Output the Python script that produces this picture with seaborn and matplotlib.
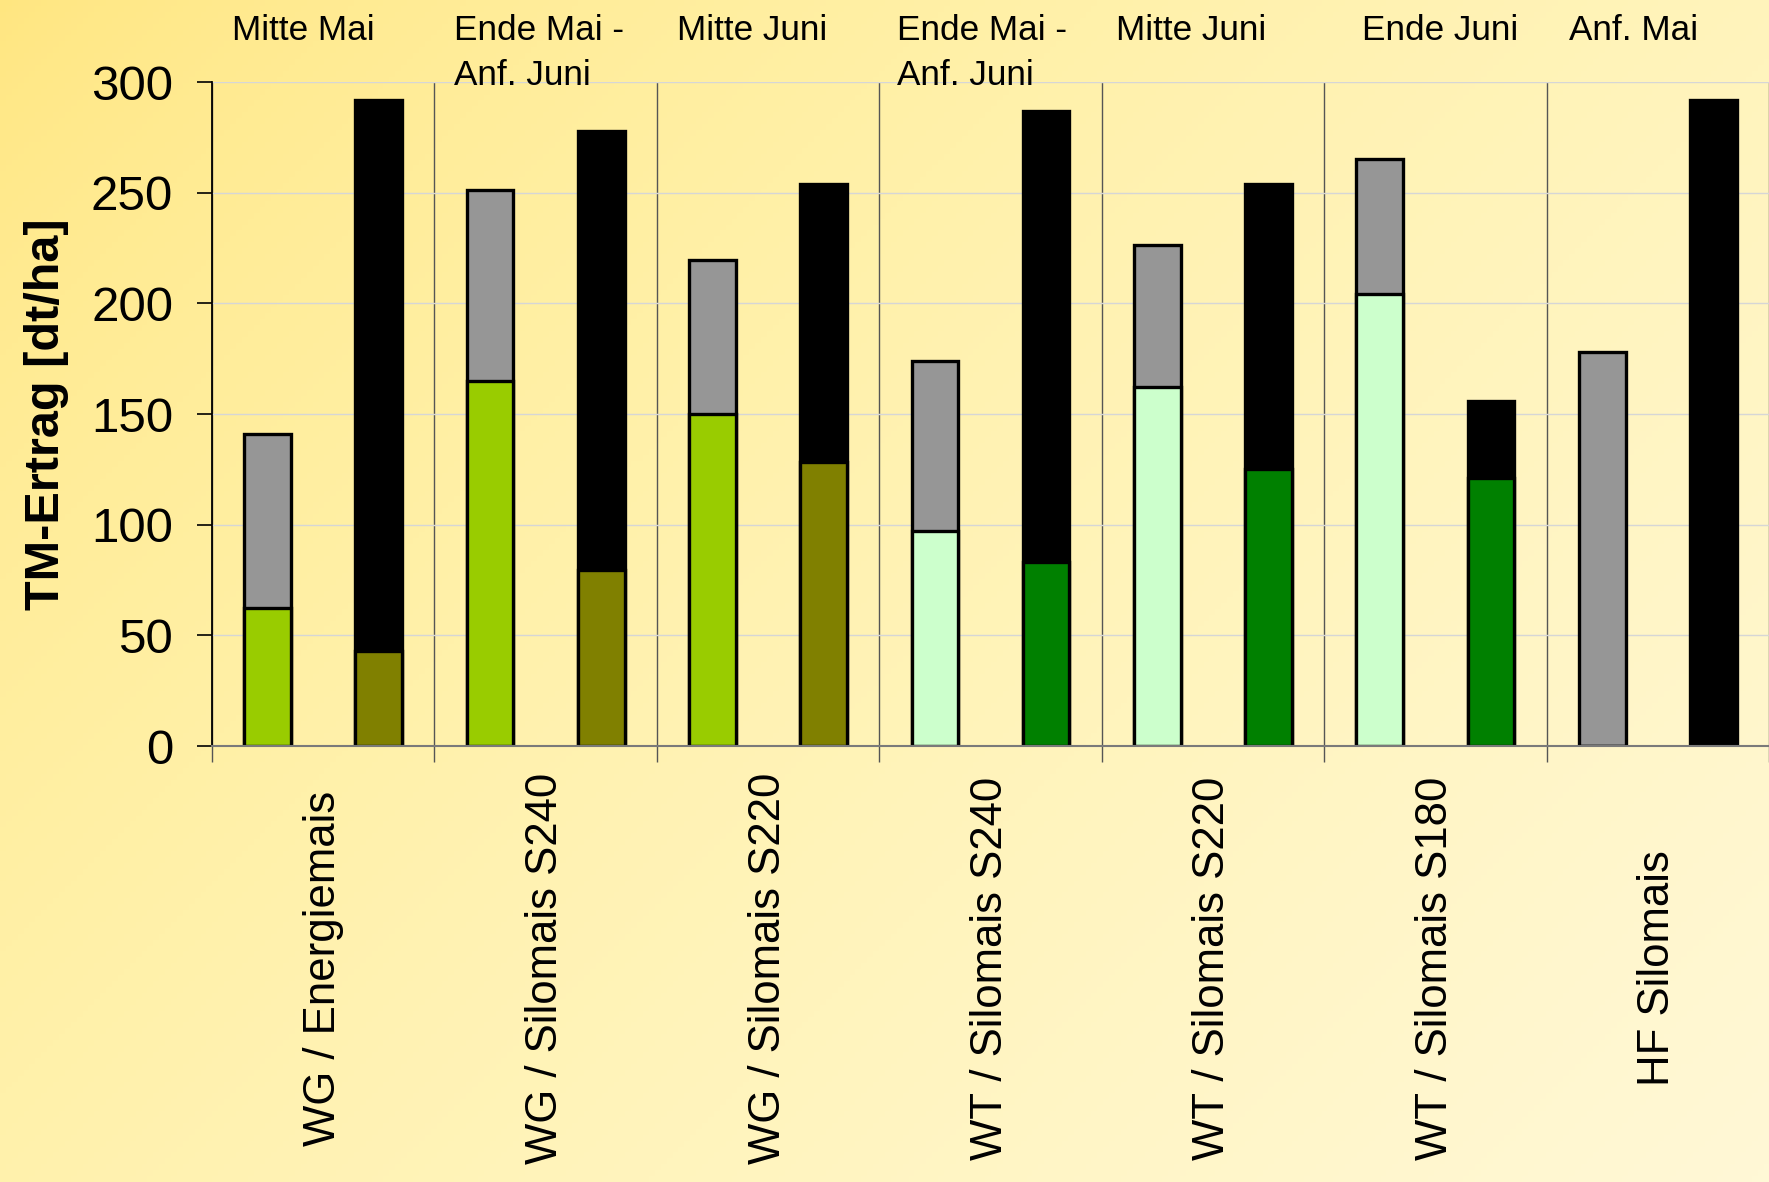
import numpy as np
import pandas as pd
import seaborn as sns
import matplotlib.pyplot as plt
import matplotlib.transforms as mtransforms
from matplotlib.colors import LinearSegmentedColormap

# groups on the x axis and the sowing dates written above them
groups = ["WG / Energiemais", "WG / Silomais S240", "WG / Silomais S220",
          "WT / Silomais S240", "WT / Silomais S220", "WT / Silomais S180",
          "HF Silomais"]
sowing = ["Mitte Mai", "Ende Mai -\nAnf. Juni", "Mitte Juni",
          "Ende Mai -\nAnf. Juni", "Mitte Juni", "Ende Juni", "Anf. Mai"]

# first bar of each group: Vorfrucht (lower) and stacked total with Mais
lower_a = [62.5, 165, 150, 97, 162, 204, 0]
total_a = [141, 251, 219.5, 174, 226.5, 265, 178]
# second bar of each group
lower_b = [43, 79.5, 128.5, 83, 125, 121, 0]
total_b = [292, 278, 254, 287, 254, 156, 292]

# colours
lower_a_colors = ["#99CC00"] * 3 + ["#CCFFCC"] * 3 + ["#969696"]
lower_b_colors = ["#808000"] * 3 + ["#008000"] * 3 + ["#000000"]
upper_a_color = "#969696"
upper_b_color = "#000000"

rows = []
for i, g in enumerate(groups):
    rows.append({"slot": g + " a", "lower": lower_a[i], "total": total_a[i],
                 "c_low": lower_a_colors[i], "c_up": upper_a_color})
    rows.append({"slot": g + " b", "lower": lower_b[i], "total": total_b[i],
                 "c_low": lower_b_colors[i], "c_up": upper_b_color})
df = pd.DataFrame(rows)
slots = list(df["slot"])
pal_up = dict(zip(df["slot"], df["c_up"]))
pal_low = dict(zip(df["slot"], df["c_low"]))

sns.set_style("white")
plt.rcParams["font.family"] = ["Liberation Sans", "DejaVu Sans"]
plt.rcParams["text.color"] = "black"
plt.rcParams["axes.labelcolor"] = "black"

W, H = 1769, 1182
fig = plt.figure(figsize=(W / 100, H / 100), dpi=100)

# yellow gradient background
bg = fig.add_axes([0, 0, 1, 1])
bg.axis("off")
yy, xx = np.mgrid[0:1:200j, 0:1:300j]
t = np.clip((xx * 0.6 + yy * 0.4), 0, 1) ** 0.7
cmap = LinearSegmentedColormap.from_list("bg", ["#FFE680", "#FFF1AA", "#FFF8D6"])
bg.imshow(t, cmap=cmap, aspect="auto", extent=[0, 1, 0, 1], origin="upper")

ax = fig.add_axes([212 / W, 1 - 746 / H, 1 - 212 / W, 664 / H])
ax.set_facecolor("none")

bar_kw = dict(x="slot", hue="slot", order=slots, hue_order=slots, width=0.42,
              saturation=1, edgecolor="black", linewidth=2.4, legend=False,
              errorbar=None, ax=ax)
sns.barplot(data=df, y="total", palette=pal_up, **bar_kw)
sns.barplot(data=df, y="lower", palette=pal_low, **bar_kw)

n = len(groups)
centers = [2 * i + 0.5 for i in range(n)]
bounds = [2 * i - 0.5 for i in range(n + 1)]

ax.set_xlim(-0.5, -0.5 + (W - 212) / 111.7)
ax.set_ylim(0, 300)
ax.set_yticks(range(0, 301, 50))
ax.set_xticks(centers, labels=groups)
ax.set_xticks(bounds, minor=True)
ax.set_xlabel("")

ax.tick_params(axis="y", labelsize=35.5, length=11, width=1.2, pad=17,
               color="black", labelcolor="black", direction="out", left=True)
ax.tick_params(axis="x", which="major", length=0, pad=160, labelsize=31.5,
               labelcolor="black")
ax.tick_params(axis="x", which="minor", length=11.5, width=1,
               color="#555555", direction="out", bottom=True)
for lab in ax.get_xticklabels():
    lab.set_rotation(90)
    lab.set_va("center")
    lab.set_ha("center")

ax.grid(axis="x", which="minor", color="#555555", lw=1)
ax.grid(axis="y", which="major", color="#d6d6d6", lw=1)
ax.set_axisbelow(True)

for s in ["top", "right"]:
    ax.spines[s].set_visible(False)
ax.spines["left"].set_color("black")
ax.spines["left"].set_linewidth(1.3)
ax.spines["bottom"].set_color("#7a7a7a")
ax.spines["bottom"].set_linewidth(1.5)

ax.set_ylabel("TM-Ertrag [dt/ha]", fontsize=35, fontweight="bold")
ax.yaxis.set_label_coords(-0.092, 0.5)

# sowing dates above the groups
date_offsets = [0.18, 0.18, 0.18, 0.16, 0.13, 0.34, 0.2]
trans = mtransforms.blended_transform_factory(ax.transData, ax.transAxes)
for i, txt in enumerate(sowing):
    ax.text(bounds[i] + date_offsets[i], 1.1024, txt, transform=trans,
            ha="left", va="top", fontsize=25.3, linespacing=1.45,
            color="black", clip_on=False)

fig.savefig("out.png", dpi=100)
